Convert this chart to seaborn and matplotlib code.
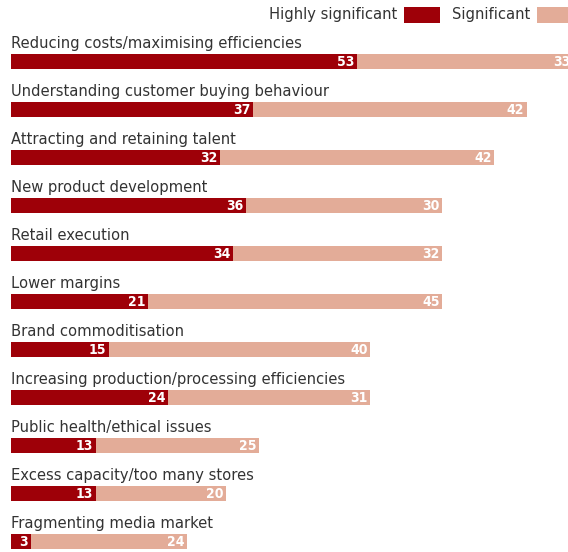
import matplotlib
matplotlib.use("Agg")
import matplotlib.pyplot as plt
import seaborn as sns
import pandas as pd
from matplotlib.patches import Rectangle

categories = [
    "Reducing costs/maximising efficiencies",
    "Understanding customer buying behaviour",
    "Attracting and retaining talent",
    "New product development",
    "Retail execution",
    "Lower margins",
    "Brand commoditisation",
    "Increasing production/processing efficiencies",
    "Public health/ethical issues",
    "Excess capacity/too many stores",
    "Fragmenting media market",
]
highly_significant = [53, 37, 32, 36, 34, 21, 15, 24, 13, 13, 3]
significant = [33, 42, 42, 30, 32, 45, 40, 31, 25, 20, 24]
series_names = ["Highly significant", "Significant"]

DARK = "#9E0008"
LIGHT = "#E3AC98"
TEXT = "#333333"

sns.set_style("white")
plt.rcParams["font.family"] = ["DejaVu Sans"]
plt.rcParams["font.stretch"] = "condensed"

df = pd.DataFrame({
    "category": categories,
    "high": highly_significant,
    "sig": significant,
})
df["total"] = df["high"] + df["sig"]

fig = plt.figure(figsize=(5.68, 5.52), dpi=100)
ax = fig.add_axes([11 / 568, 0, 1 - 11 / 568, 1])

bar_h = 15 / 48

# stacked bars: full total in light colour, first segment overdrawn in dark red
sns.barplot(data=df, x="total", y="category", order=categories, orient="h",
            color=LIGHT, width=bar_h, saturation=1, ax=ax, linewidth=0)
sns.barplot(data=df, x="high", y="category", order=categories, orient="h",
            color=DARK, width=bar_h, saturation=1, ax=ax, linewidth=0)

ax.set_xlim(0, (568 - 11) / 6.53)
ax.set_ylim((552 - 61.5) / 48, -61.5 / 48)
ax.axis("off")

LABEL_SIZE = 11.8
VALUE_SIZE = 10
pad = 2.5 / 6.53
for i, row in df.iterrows():
    # category name above the bar
    ax.text(0, i - bar_h / 2 - 6 / 48, row["category"], ha="left", va="baseline",
            fontsize=LABEL_SIZE, color=TEXT, fontstretch="condensed")
    # value labels at the end of each segment
    ax.text(row["high"] - pad, i, str(row["high"]), ha="right", va="center",
            fontsize=VALUE_SIZE, fontweight="bold", color="white",
            fontstretch="condensed")
    ax.text(row["total"] - pad, i, str(row["sig"]), ha="right", va="center",
            fontsize=VALUE_SIZE, fontweight="bold", color="white",
            fontstretch="condensed", clip_on=True)

# legend at the top right
fig.text(397 / 568, 1 - 15 / 552, series_names[0], ha="right", va="center",
         fontsize=LABEL_SIZE, color=TEXT, fontstretch="condensed")
fig.patches.append(Rectangle((404 / 568, 1 - 23 / 552), 36 / 568, 16 / 552,
                             transform=fig.transFigure, color=DARK, lw=0))
fig.text(452 / 568, 1 - 15 / 552, series_names[1], ha="left", va="center",
         fontsize=LABEL_SIZE, color=TEXT, fontstretch="condensed")
fig.patches.append(Rectangle((537 / 568, 1 - 23 / 552), 36 / 568, 16 / 552,
                             transform=fig.transFigure, color=LIGHT, lw=0))

fig.savefig("out.png", dpi=100)
